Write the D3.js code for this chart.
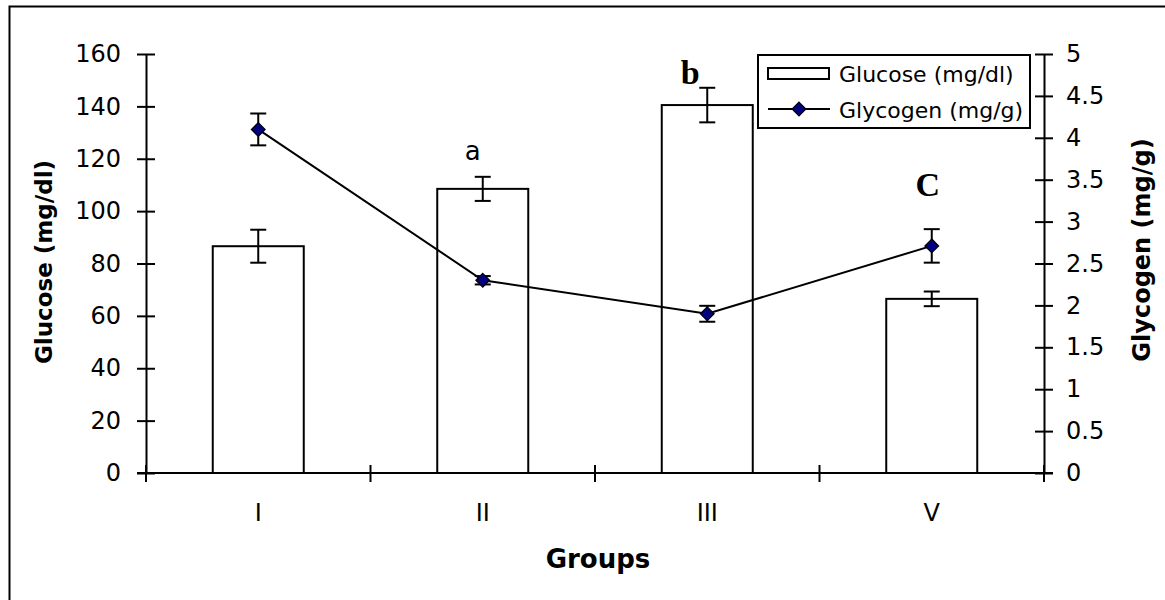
<!DOCTYPE html>
<html>
<head>
<meta charset="utf-8">
<script src="https://cdn.jsdelivr.net/npm/d3@7"></script>
<style>
  body { margin: 0; background: #fff; }
  text { font-family: "DejaVu Sans", sans-serif; }
  text.serif { font-family: "Liberation Serif", "DejaVu Serif", serif; }
</style>
</head>
<body>
<div id="chart"></div>
<script>
// data
var groups = ["I", "II", "III", "V"];
var glucose = [86.6, 108.5, 140.5, 66.5];
var glucoseErr = [6.3, 4.6, 6.6, 2.8];
var glycogen = [4.10, 2.30, 1.90, 2.71];
var glycogenErr = [0.19, 0.05, 0.095, 0.2];
var letters = ["", "a", "b", "C"];
var leftTicks = [0, 20, 40, 60, 80, 100, 120, 140, 160];
var rightTicks = [0, 0.5, 1, 1.5, 2, 2.5, 3, 3.5, 4, 4.5, 5];

var margin = {top: 54, right: 121, bottom: 127, left: 146};
var width = 1165 - margin.left - margin.right,
    height = 600 - margin.top - margin.bottom;

var svg = d3.select("#chart").append("svg")
    .attr("width", 1165)
    .attr("height", 600);

// outer frame (runs off the right/bottom edge like the original)
svg.append("rect")
    .attr("x", 9.5).attr("y", 6.5)
    .attr("width", 1170).attr("height", 600)
    .attr("fill", "none").attr("stroke", "#000").attr("stroke-width", 2);

var g = svg.append("g")
    .attr("transform", "translate(" + margin.left + "," + margin.top + ")");

var xBand = d3.scaleBand().domain(groups).range([0, width]);
var yL = d3.scaleLinear().domain([0, 160]).range([height, 0]);
var yR = d3.scaleLinear().domain([0, 5]).range([height, 0]);

function cx(i) { return xBand(groups[i]) + xBand.bandwidth() / 2; }

// bars
g.selectAll(".bar")
    .data(glucose)
    .enter().append("rect")
    .attr("class", "bar")
    .attr("x", function(d, i) { return cx(i) - 45.5; })
    .attr("width", 91)
    .attr("y", function(d) { return yL(d); })
    .attr("height", function(d) { return height - yL(d); })
    .attr("fill", "#fff")
    .attr("stroke", "#000")
    .attr("stroke-width", 2);

// error bars helper
function errBars(vals, errs, scale, cls) {
    var eg = g.selectAll("." + cls).data(vals).enter().append("g").attr("class", cls);
    eg.append("line")
        .attr("x1", function(d, i) { return cx(i); })
        .attr("x2", function(d, i) { return cx(i); })
        .attr("y1", function(d, i) { return scale(d + errs[i]); })
        .attr("y2", function(d, i) { return scale(d - errs[i]); });
    eg.append("line")
        .attr("x1", function(d, i) { return cx(i) - 8; })
        .attr("x2", function(d, i) { return cx(i) + 8; })
        .attr("y1", function(d, i) { return scale(d + errs[i]); })
        .attr("y2", function(d, i) { return scale(d + errs[i]); });
    eg.append("line")
        .attr("x1", function(d, i) { return cx(i) - 8; })
        .attr("x2", function(d, i) { return cx(i) + 8; })
        .attr("y1", function(d, i) { return scale(d - errs[i]); })
        .attr("y2", function(d, i) { return scale(d - errs[i]); });
    eg.selectAll("line").attr("stroke", "#000").attr("stroke-width", 2);
}
errBars(glucose, glucoseErr, yL, "err-glu");
errBars(glycogen, glycogenErr, yR, "err-gly");

// glycogen line
var line = d3.line()
    .x(function(d, i) { return cx(i); })
    .y(function(d) { return yR(d); });

g.append("path")
    .datum(glycogen)
    .attr("d", line)
    .attr("fill", "none")
    .attr("stroke", "#000")
    .attr("stroke-width", 2);

var diamond = d3.symbol().type(d3.symbolDiamond2).size(120);
g.selectAll(".pt")
    .data(glycogen)
    .enter().append("path")
    .attr("class", "pt")
    .attr("d", diamond)
    .attr("transform", function(d, i) { return "translate(" + cx(i) + "," + yR(d) + ")"; })
    .attr("fill", "#000080")
    .attr("stroke", "#000")
    .attr("stroke-width", 1.2);

// axes
var xAxis = g.append("g")
    .attr("transform", "translate(0," + height + ")");
xAxis.append("line")
    .attr("x1", -9).attr("x2", width + 9)
    .attr("stroke", "#000").attr("stroke-width", 2);
xAxis.selectAll(".xtick")
    .data(d3.range(groups.length + 1))
    .enter().append("line")
    .attr("x1", function(d) { return d * xBand.bandwidth(); })
    .attr("x2", function(d) { return d * xBand.bandwidth(); })
    .attr("y1", -8).attr("y2", 9)
    .attr("stroke", "#000").attr("stroke-width", 2);
xAxis.selectAll(".xlabel")
    .data(groups)
    .enter().append("text")
    .attr("x", function(d, i) { return cx(i); })
    .attr("y", 48)
    .attr("text-anchor", "middle")
    .attr("font-size", 24)
    .text(function(d) { return d; });

var leftAxis = g.append("g")
    .call(d3.axisLeft(yL).tickValues(leftTicks).tickSize(0).tickPadding(25));
leftAxis.select(".domain").attr("stroke-width", 2);
leftAxis.selectAll("text").attr("font-size", 24).attr("fill", "#000");
leftAxis.selectAll(".tick").append("line")
    .attr("x1", -9).attr("x2", 9)
    .attr("stroke", "#000").attr("stroke-width", 2);

var rightAxis = g.append("g")
    .attr("transform", "translate(" + width + ",0)")
    .call(d3.axisRight(yR).tickValues(rightTicks).tickSize(0).tickPadding(22)
        .tickFormat(function(d) { return String(d); }));
rightAxis.select(".domain").attr("stroke-width", 2);
rightAxis.selectAll("text").attr("font-size", 24).attr("fill", "#000");
rightAxis.selectAll(".tick").append("line")
    .attr("x1", -9).attr("x2", 9)
    .attr("stroke", "#000").attr("stroke-width", 2);

// axis titles
svg.append("text")
    .attr("transform", "translate(52,262) rotate(-90)")
    .attr("text-anchor", "middle")
    .attr("font-size", 23).attr("font-weight", "bold")
    .text("Glucose (mg/dl)");

svg.append("text")
    .attr("transform", "translate(1150,250) rotate(-90)")
    .attr("text-anchor", "middle")
    .attr("font-size", 24).attr("font-weight", "bold")
    .text("Glycogen (mg/g)");

svg.append("text")
    .attr("x", 598).attr("y", 568)
    .attr("text-anchor", "middle")
    .attr("font-size", 26).attr("font-weight", "bold")
    .text("Groups");

// significance letters
var letterDx = [0, -10, -17, -4];
g.selectAll(".letter")
    .data(letters)
    .enter().append("text")
    .attr("class", function(d, i) { return i === 1 ? "letter" : "letter serif"; })
    .attr("x", function(d, i) { return cx(i) + letterDx[i]; })
    .attr("y", function(d, i) {
        if (i === 1) return yL(glucose[i] + glucoseErr[i]) - 17;
        if (i === 2) return yL(glucose[i] + glucoseErr[i]) - 4;
        return yR(glycogen[i] + glycogenErr[i]) - 33;
    })
    .attr("text-anchor", "middle")
    .attr("font-weight", function(d, i) { return i === 1 ? "normal" : "bold"; })
    .attr("font-size", function(d, i) { return i === 1 ? 26 : 34; })
    .text(function(d) { return d; });

// legend
var lg = svg.append("g").attr("transform", "translate(758,55)");
lg.append("rect")
    .attr("width", 272).attr("height", 73)
    .attr("fill", "#fff").attr("stroke", "#000").attr("stroke-width", 2);
lg.append("rect")
    .attr("x", 10).attr("y", 13).attr("width", 61).attr("height", 11)
    .attr("fill", "#fff").attr("stroke", "#000").attr("stroke-width", 2);
lg.append("text")
    .attr("x", 81).attr("y", 27)
    .attr("font-size", 22)
    .text("Glucose (mg/dl)");
lg.append("line")
    .attr("x1", 10).attr("x2", 72).attr("y1", 54).attr("y2", 54)
    .attr("stroke", "#000").attr("stroke-width", 2);
lg.append("path")
    .attr("d", diamond)
    .attr("transform", "translate(41,54)")
    .attr("fill", "#000080").attr("stroke", "#000").attr("stroke-width", 1.2);
lg.append("text")
    .attr("x", 81).attr("y", 63)
    .attr("font-size", 22)
    .text("Glycogen (mg/g)");
</script>
</body>
</html>
